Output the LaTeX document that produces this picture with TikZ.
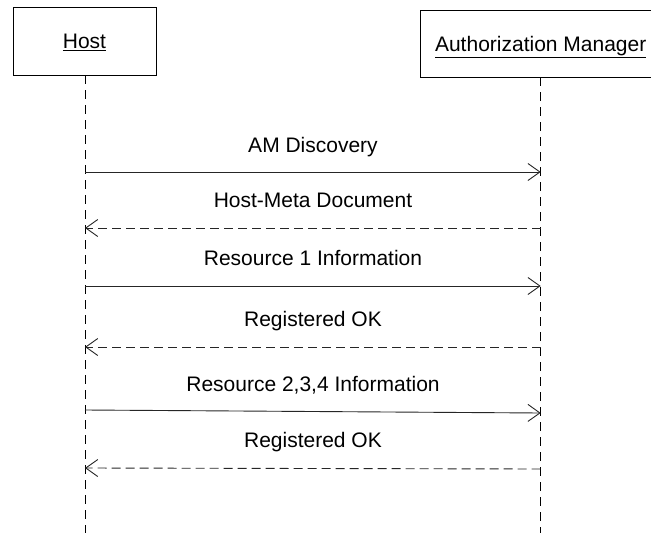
\documentclass[tikz,border=0pt]{standalone}
\usepackage{fontspec}
\setmainfont{Liberation Sans}
\usetikzlibrary{arrows.meta}
\begin{document}
\begin{tikzpicture}[x=1pt,y=-1pt,
  actor/.style={draw=black,line width=0.9pt,fill=white,inner sep=0pt,text height=15pt,text depth=0pt,font=\fontsize{21}{25}\selectfont},
  lifeline/.style={draw=black,line width=0.9pt,dash pattern=on 9pt off 6pt},
  msg/.style={draw=black!85,line width=0.9pt,-{Straight Barb[length=12pt,width=17pt,line width=0.9pt]}},
  reply/.style={msg,dash pattern=on 9pt off 5pt},
  lbl/.style={anchor=base,font=\fontsize{21}{25}\selectfont,inner sep=0pt}]
\useasboundingbox (0,0) rectangle (651,533);
\node[actor,minimum width=143pt,minimum height=68pt] (host) at (84.5,41) {\underline{Host}};
\node[actor,minimum width=240pt,minimum height=67pt] (am) at (540.7,43.5) {\underline{Authorization Manager}};
\coordinate (hend) at (85,533);
\coordinate (aend) at (540.7,533);
\draw[lifeline] (85,75) -- (hend);
\draw[lifeline] (540.7,77) -- (aend);
% message anchor points on lifelines
\coordinate (h1) at (85,172);   \coordinate (a1) at (540.7,172);
\coordinate (h2) at (85,228);   \coordinate (a2) at (540.7,228);
\coordinate (h3) at (85,286);   \coordinate (a3) at (540.7,286);
\coordinate (h4) at (85,347);   \coordinate (a4) at (540.7,347);
\coordinate (h5) at (85,410);   \coordinate (a5) at (540.7,413);
\coordinate (h6) at (85,468);   \coordinate (a6) at (540.7,469);
\draw[msg] (h1) -- (a1);
\draw[reply] (a2) -- (h2);
\draw[msg] (h3) -- (a3);
\draw[reply] (a4) -- (h4);
\draw[msg] (h5) -- (a5);
\draw[reply] (a6) -- (h6);
\node[lbl] (l1) at (313,152) {AM Discovery};
\node[lbl] (l2) at (313,207) {Host-Meta Document};
\node[lbl] (l3) at (313,265.5) {Resource 1 Information};
\node[lbl] (l4) at (313,326.5) {Registered OK};
\node[lbl] (l5) at (313,391) {Resource 2,3,4 Information};
\node[lbl] (l6) at (313,447) {Registered OK};
\end{tikzpicture}
\end{document}
